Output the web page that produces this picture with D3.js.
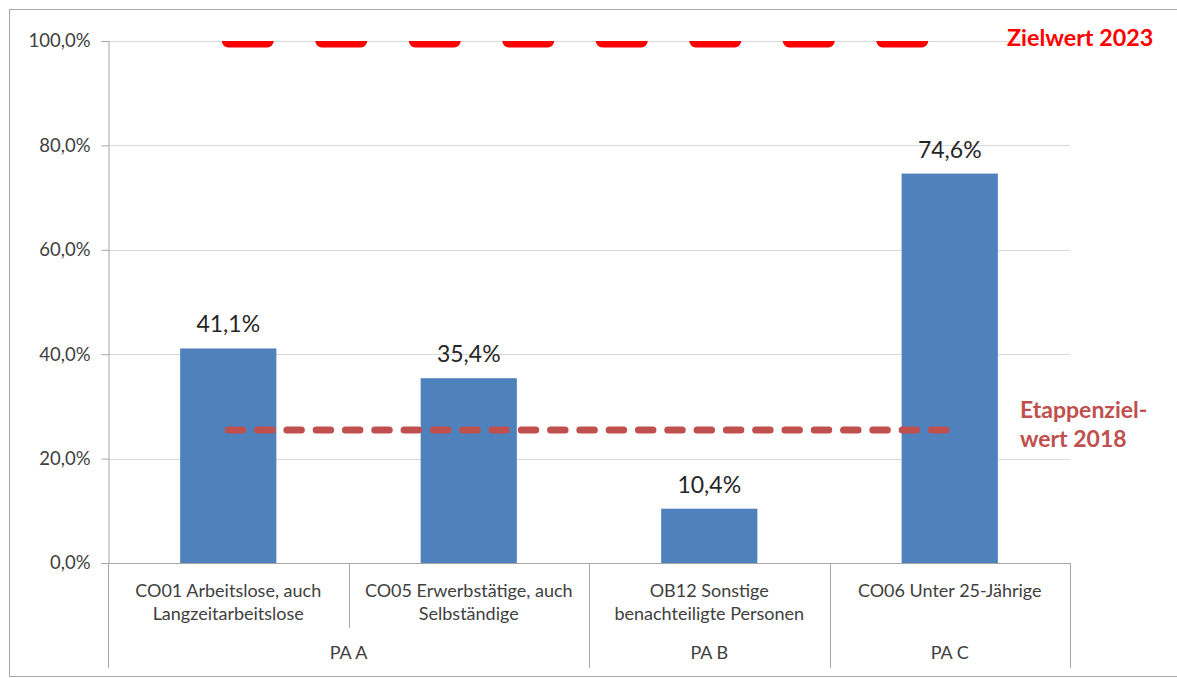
<!DOCTYPE html>
<html lang="de">
<head>
<meta charset="utf-8">
<script src="https://cdn.jsdelivr.net/npm/d3@7/dist/d3.min.js"></script>
<style>
  html, body { margin: 0; padding: 0; background: #fff; }
  svg { display: block; font-family: Lato, "Open Sans", sans-serif; }
</style>
</head>
<body>
<svg id="chart" width="1177" height="678"></svg>
<script>
// Indicator categories, their priority-axis groups and achieved shares
const categories = [
  ["CO01 Arbeitslose, auch", "Langzeitarbeitslose"],
  ["CO05 Erwerbstätige, auch", "Selbständige"],
  ["OB12 Sonstige", "benachteiligte Personen"],
  ["CO06 Unter 25-Jährige"]
];
const categoryKeys = ["CO01", "CO05", "OB12", "CO06"];
const groups = ["PA A", "PA A", "PA B", "PA C"];
const values = [0.411, 0.354, 0.104, 0.746];

// Target lines
const zielwert = 1.0;        // Zielwert 2023
const etappenziel = 0.255;   // Etappenzielwert 2018

const yTicks = [0, 0.2, 0.4, 0.6, 0.8, 1.0];

const svg = d3.select("#chart");
const plotLeft = 108, plotRight = 1070, plotTop = 41, plotBottom = 563;

const x = d3.scaleBand()
  .domain(categoryKeys)
  .range([plotLeft, plotRight])
  .paddingInner(0.6)
  .paddingOuter(0.3);

const y = d3.scaleLinear().domain([0, 1]).range([plotBottom, plotTop]);

const fmt = v => d3.format(".1f")(v * 100).replace(".", ",") + "%";

// Outer frame
svg.append("rect")
  .attr("x", 9.5).attr("y", 9.5)
  .attr("width", 1200).attr("height", 667)
  .attr("fill", "none").attr("stroke", "#a6a6a6").attr("stroke-width", 1);

// Horizontal gridlines
svg.append("g")
  .selectAll("line")
  .data(yTicks.filter(d => d > 0))
  .join("line")
  .attr("x1", plotLeft).attr("x2", plotRight)
  .attr("y1", d => Math.round(y(d)) + 0.5).attr("y2", d => Math.round(y(d)) + 0.5)
  .attr("stroke", "#d9d9d9").attr("stroke-width", 1);

// Value axis
const yAxis = svg.append("g")
  .attr("transform", `translate(${plotLeft + 0.5},0)`)
  .call(d3.axisLeft(y).tickValues(yTicks).tickFormat(fmt).tickSizeOuter(0).tickSize(7).tickPadding(11));
yAxis.select(".domain").attr("stroke", "#a6a6a6");
yAxis.selectAll(".tick line").attr("stroke", "#a6a6a6");
yAxis.selectAll(".tick text")
  .attr("font-size", 18.5).attr("fill", "#404040")
  .attr("font-family", "Lato, sans-serif");

// Bars
svg.append("g")
  .selectAll("rect")
  .data(values)
  .join("rect")
  .attr("x", (d, i) => x(categoryKeys[i]))
  .attr("width", x.bandwidth())
  .attr("y", d => y(d))
  .attr("height", d => y(0) - y(d))
  .attr("fill", "#4f81bd");

// Data labels
svg.append("g")
  .selectAll("text")
  .data(values)
  .join("text")
  .attr("x", (d, i) => x(categoryKeys[i]) + x.bandwidth() / 2)
  .attr("y", d => y(d) - 16)
  .attr("text-anchor", "middle")
  .attr("font-size", 23)
  .attr("fill", "#262626")
  .text(fmt);

// Category axis line and separators
const step = x.step();
const catStart = i => plotLeft + i * step;
svg.append("line")
  .attr("x1", plotLeft - 7).attr("x2", plotRight)
  .attr("y1", plotBottom + 0.5).attr("y2", plotBottom + 0.5)
  .attr("stroke", "#a6a6a6");

const boundaries = d3.range(categoryKeys.length + 1).map(i => {
  const isGroupEdge = i === 0 || i === categoryKeys.length || groups[i] !== groups[i - 1];
  return { x: catStart(i), long: isGroupEdge };
});
svg.append("g")
  .selectAll("line")
  .data(boundaries)
  .join("line")
  .attr("x1", d => Math.round(d.x) + 0.5).attr("x2", d => Math.round(d.x) + 0.5)
  .attr("y1", plotBottom).attr("y2", d => d.long ? 668 : 628)
  .attr("stroke", "#a6a6a6");

// Category labels
const catLabels = svg.append("g")
  .selectAll("text")
  .data(categories)
  .join("text")
  .attr("text-anchor", "middle")
  .attr("font-size", 18)
  .attr("fill", "#404040");
catLabels.each(function(lines, i) {
  const cx = x(categoryKeys[i]) + x.bandwidth() / 2;
  d3.select(this).selectAll("tspan")
    .data(lines)
    .join("tspan")
    .attr("x", cx)
    .attr("y", (d, j) => 597 + j * 23)
    .text(d => d);
});

// Group labels
const groupNames = Array.from(new Set(groups));
svg.append("g")
  .selectAll("text")
  .data(groupNames)
  .join("text")
  .attr("x", g => {
    const idx = groups.map((d, i) => d === g ? i : -1).filter(i => i >= 0);
    return (catStart(idx[0]) + catStart(idx[idx.length - 1] + 1)) / 2;
  })
  .attr("y", 659)
  .attr("text-anchor", "middle")
  .attr("font-size", 18)
  .attr("fill", "#404040")
  .text(g => g);

// Target lines spanning first to last category centre
const firstC = x(categoryKeys[0]) + x.bandwidth() / 2;
const lastC = x(categoryKeys[categoryKeys.length - 1]) + x.bandwidth() / 2;

svg.append("clipPath").attr("id", "plotClip")
  .append("rect").attr("x", plotLeft).attr("y", plotTop)
  .attr("width", plotRight - plotLeft + 200).attr("height", plotBottom - plotTop);

svg.append("line")
  .attr("clip-path", "url(#plotClip)")
  .attr("x1", firstC).attr("x2", lastC)
  .attr("y1", y(zielwert)).attr("y2", y(zielwert))
  .attr("stroke", "#ff0000").attr("stroke-width", 13)
  .attr("stroke-linecap", "round")
  .attr("stroke-dasharray", "39 54.5");

svg.append("line")
  .attr("x1", firstC).attr("x2", lastC)
  .attr("y1", y(etappenziel)).attr("y2", y(etappenziel))
  .attr("stroke", "#c0504d").attr("stroke-width", 7)
  .attr("stroke-linecap", "round")
  .attr("stroke-dasharray", "14.5 14.8");

// Target labels
svg.append("text")
  .attr("x", 1007).attr("y", 46)
  .attr("font-size", 23.3).attr("font-weight", "bold")
  .attr("fill", "#ff0000")
  .text("Zielwert 2023");

const etText = svg.append("text")
  .attr("font-size", 23).attr("font-weight", "bold")
  .attr("fill", "#c0504d");
etText.append("tspan").attr("x", 1020).attr("y", 418).text("Etappenziel-");
etText.append("tspan").attr("x", 1020).attr("y", 447).text("wert 2018");
</script>
</body>
</html>
